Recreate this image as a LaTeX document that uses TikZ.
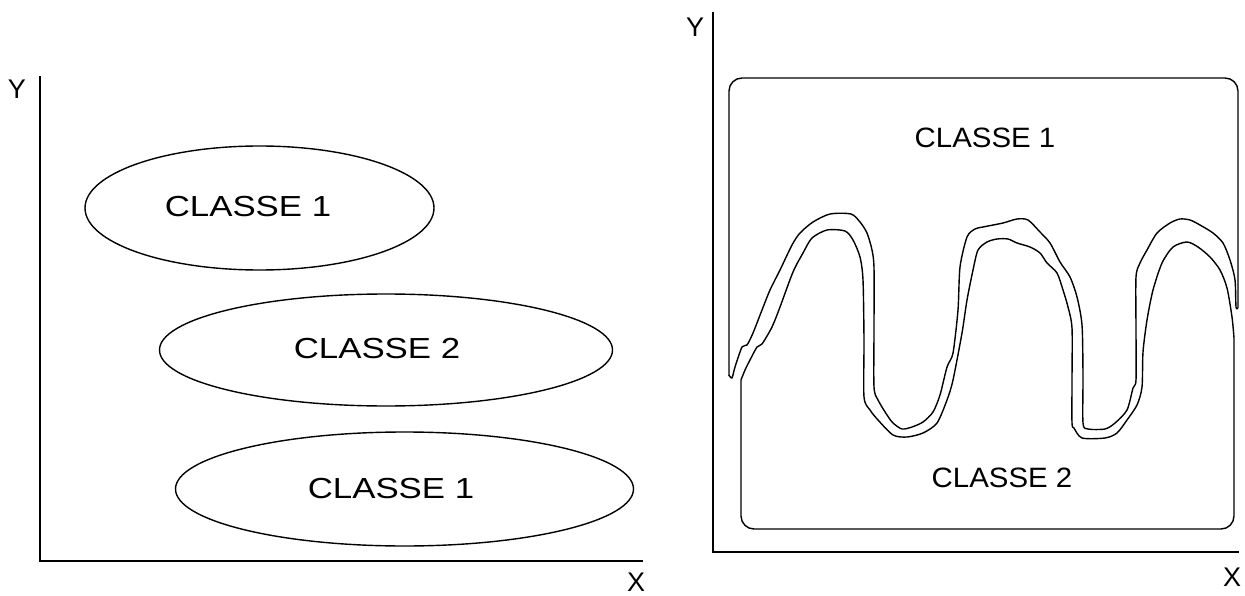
\documentclass[tikz,border=0pt]{standalone}
\usepackage{fontspec}
\setmainfont{Liberation Sans}
\begin{document}
\begin{tikzpicture}[x=1pt,y=-1pt,
  axisline/.style={line width=1.6pt, line cap=rect},
  curveline/.style={line width=1.4pt, line join=round},
  lbl/.style={inner sep=0pt, font=\fontsize{27}{27}\selectfont},
  ltxt/.style={inner sep=0pt, font=\fontsize{29}{29}\selectfont},
  rtxt/.style={inner sep=0pt, font=\fontsize{28}{28}\selectfont}]
\useasboundingbox (0,0) rectangle (1245,596);
% ---------- left panel ----------
\draw[axisline] (40,77) -- (40,561) -- (642,561);
\node[lbl] (ly) at (17,89) {Y};
\node[lbl] (lx) at (636,582) {X};
\draw[curveline] (259.5,208) ellipse [x radius=174.5, y radius=62];
\draw[curveline] (386,350) ellipse [x radius=226.5, y radius=56];
\draw[curveline] (404.5,489) ellipse [x radius=229, y radius=57];
\node[ltxt] (c1) at (248,207) {\scalebox{1.2}[1]{CLASSE 1}};
\node[ltxt] (c2) at (377,349) {\scalebox{1.2}[1]{CLASSE 2}};
\node[ltxt] (c3) at (391,489) {\scalebox{1.2}[1]{CLASSE 1}};
% ---------- right panel ----------
\draw[axisline] (713,13) -- (713,552) -- (1238,552);
\node[lbl] (ry) at (695,27) {Y};
\node[lbl] (rx) at (1232,577) {X};
% upper region
\draw[curveline, rounded corners=13pt] (729,376) -- (729,78) -- (1238,78) -- (1238,308);
\draw[curveline] plot[smooth, tension=0.45] coordinates {
 (729,375) (732,378) (735,367) (742,347) (747,345) (753,333) (762,310) (770,290)
 (780,270) (792,245) (800,233) (813,222) (830,214) (851,214) (860,222) (867,233)
 (872,250) (874,268) (874,330) (874,387) (878,400) (887,415) (893,423) (902,429)
 (912,427) (923,422) (933,412) (940,395) (947,367) (953,353) (958,310) (960,267)
 (967,237) (975,229) (983,227) (1003,223) (1017,219) (1028,220) (1040,232) (1050,243)
 (1060,262) (1070,277) (1077,297) (1082,325) (1083,375) (1083,423) (1088,429) (1105,429)
 (1115,423) (1127,410) (1133,388) (1136,380) (1136,330) (1136,277) (1140,263) (1147,250)
 (1157,233) (1170,223) (1180,219) (1190,220) (1200,225) (1213,233) (1223,243) (1230,260)
 (1235,280) (1236,307) (1238,308)};
% lower region
\draw[curveline, rounded corners=13pt] (741,380) -- (741,529) -- (1234,529) -- (1234,338);
\draw[curveline] plot[smooth, tension=0.45] coordinates {
 (741,380) (745,370) (750,360) (757,347) (762,344) (772,327) (780,307) (793,272)
 (803,253) (812,238) (827,230) (845,231) (853,240) (860,257) (863,280) (864,340)
 (864,397) (870,410) (878,420) (893,435) (907,437) (923,433) (937,423) (947,400)
 (953,380) (962,333) (967,300) (973,270) (978,250) (987,242) (997,239) (1008,239)
 (1017,243) (1030,247) (1040,253) (1047,263) (1057,273) (1063,290) (1068,307) (1072,328)
 (1072,380) (1072,423) (1074,428) (1082,438) (1105,438) (1117,433) (1127,420) (1137,405)
 (1142,387) (1143,352) (1147,320) (1153,290) (1162,263) (1173,247) (1187,242) (1198,247)
 (1210,257) (1220,270) (1227,288) (1232,317) (1234,338)};
\node[rtxt] (r1) at (985,138) {\scalebox{1.05}[1]{CLASSE 1}};
\node[rtxt] (r2) at (1002,478) {\scalebox{1.05}[1]{CLASSE 2}};
\end{tikzpicture}
\end{document}
